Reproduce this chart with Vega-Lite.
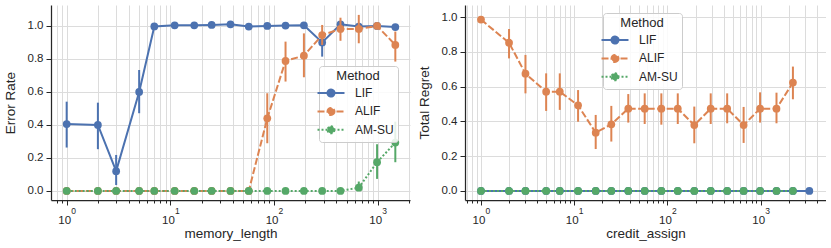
{
  "$schema": "https://vega.github.io/schema/vega-lite/v6.json",
  "padding": {"left": 3, "top": 5, "right": 0, "bottom": 10},
  "spacing": 7,
  "data": {"values": [
    {"p":"m","m":"LIF","x":1,"y":0.405,"lo":0.263,"hi":0.541},
    {"p":"m","m":"LIF","x":2,"y":0.40,"lo":0.253,"hi":0.535},
    {"p":"m","m":"LIF","x":3,"y":0.12,"lo":0.036,"hi":0.218},
    {"p":"m","m":"LIF","x":5,"y":0.60,"lo":0.471,"hi":0.733},
    {"p":"m","m":"LIF","x":7,"y":0.997},
    {"p":"m","m":"LIF","x":11,"y":1.004},
    {"p":"m","m":"LIF","x":17,"y":1.004},
    {"p":"m","m":"LIF","x":25,"y":1.006},
    {"p":"m","m":"LIF","x":38,"y":1.01},
    {"p":"m","m":"LIF","x":57,"y":0.996},
    {"p":"m","m":"LIF","x":86,"y":1.0},
    {"p":"m","m":"LIF","x":129,"y":1.002},
    {"p":"m","m":"LIF","x":194,"y":1.004},
    {"p":"m","m":"LIF","x":291,"y":0.90,"lo":0.814,"hi":0.955},
    {"p":"m","m":"LIF","x":437,"y":1.01},
    {"p":"m","m":"LIF","x":656,"y":0.996},
    {"p":"m","m":"LIF","x":985,"y":1.0},
    {"p":"m","m":"LIF","x":1477,"y":0.993},
    {"p":"m","m":"ALIF","x":1,"y":0},
    {"p":"m","m":"ALIF","x":2,"y":0},
    {"p":"m","m":"ALIF","x":3,"y":0},
    {"p":"m","m":"ALIF","x":5,"y":0},
    {"p":"m","m":"ALIF","x":7,"y":0},
    {"p":"m","m":"ALIF","x":11,"y":0},
    {"p":"m","m":"ALIF","x":17,"y":0},
    {"p":"m","m":"ALIF","x":25,"y":0},
    {"p":"m","m":"ALIF","x":38,"y":0},
    {"p":"m","m":"ALIF","x":57,"y":0},
    {"p":"m","m":"ALIF","x":86,"y":0.44,"lo":0.289,"hi":0.592},
    {"p":"m","m":"ALIF","x":129,"y":0.788,"lo":0.663,"hi":0.905},
    {"p":"m","m":"ALIF","x":194,"y":0.82,"lo":0.689,"hi":0.955},
    {"p":"m","m":"ALIF","x":291,"y":0.945,"lo":0.885,"hi":1.006},
    {"p":"m","m":"ALIF","x":437,"y":0.982,"lo":0.91,"hi":1.05},
    {"p":"m","m":"ALIF","x":656,"y":0.982,"lo":0.895,"hi":1.067},
    {"p":"m","m":"ALIF","x":985,"y":1.0},
    {"p":"m","m":"ALIF","x":1477,"y":0.885,"lo":0.784,"hi":0.966},
    {"p":"m","m":"AM-SU","x":1,"y":0},
    {"p":"m","m":"AM-SU","x":2,"y":0},
    {"p":"m","m":"AM-SU","x":3,"y":0},
    {"p":"m","m":"AM-SU","x":5,"y":0},
    {"p":"m","m":"AM-SU","x":7,"y":0},
    {"p":"m","m":"AM-SU","x":11,"y":0},
    {"p":"m","m":"AM-SU","x":17,"y":0},
    {"p":"m","m":"AM-SU","x":25,"y":0},
    {"p":"m","m":"AM-SU","x":38,"y":0},
    {"p":"m","m":"AM-SU","x":57,"y":0},
    {"p":"m","m":"AM-SU","x":86,"y":0},
    {"p":"m","m":"AM-SU","x":129,"y":0},
    {"p":"m","m":"AM-SU","x":194,"y":0},
    {"p":"m","m":"AM-SU","x":291,"y":0},
    {"p":"m","m":"AM-SU","x":437,"y":0},
    {"p":"m","m":"AM-SU","x":656,"y":0.02,"lo":0.0,"hi":0.057},
    {"p":"m","m":"AM-SU","x":985,"y":0.174,"lo":0.073,"hi":0.283},
    {"p":"m","m":"AM-SU","x":1477,"y":0.293,"lo":0.174,"hi":0.42},
    {"p":"c","m":"LIF","x":1,"y":0},
    {"p":"c","m":"LIF","x":2,"y":0},
    {"p":"c","m":"LIF","x":3,"y":0},
    {"p":"c","m":"LIF","x":5,"y":0},
    {"p":"c","m":"LIF","x":7,"y":0},
    {"p":"c","m":"LIF","x":11,"y":0},
    {"p":"c","m":"LIF","x":17,"y":0},
    {"p":"c","m":"LIF","x":25,"y":0},
    {"p":"c","m":"LIF","x":38,"y":0},
    {"p":"c","m":"LIF","x":57,"y":0},
    {"p":"c","m":"LIF","x":86,"y":0},
    {"p":"c","m":"LIF","x":129,"y":0},
    {"p":"c","m":"LIF","x":194,"y":0},
    {"p":"c","m":"LIF","x":291,"y":0},
    {"p":"c","m":"LIF","x":437,"y":0},
    {"p":"c","m":"LIF","x":656,"y":0},
    {"p":"c","m":"LIF","x":985,"y":0},
    {"p":"c","m":"LIF","x":1477,"y":0},
    {"p":"c","m":"LIF","x":2216,"y":0},
    {"p":"c","m":"LIF","x":3325,"y":0},
    {"p":"c","m":"ALIF","x":1,"y":0.985},
    {"p":"c","m":"ALIF","x":2,"y":0.852,"lo":0.762,"hi":0.931},
    {"p":"c","m":"ALIF","x":3,"y":0.674,"lo":0.561,"hi":0.782},
    {"p":"c","m":"ALIF","x":5,"y":0.571,"lo":0.46,"hi":0.676},
    {"p":"c","m":"ALIF","x":7,"y":0.571,"lo":0.466,"hi":0.676},
    {"p":"c","m":"ALIF","x":11,"y":0.492,"lo":0.398,"hi":0.58},
    {"p":"c","m":"ALIF","x":17,"y":0.335,"lo":0.241,"hi":0.437},
    {"p":"c","m":"ALIF","x":25,"y":0.383,"lo":0.284,"hi":0.489},
    {"p":"c","m":"ALIF","x":38,"y":0.473,"lo":0.393,"hi":0.557},
    {"p":"c","m":"ALIF","x":57,"y":0.473,"lo":0.385,"hi":0.561},
    {"p":"c","m":"ALIF","x":86,"y":0.473,"lo":0.381,"hi":0.561},
    {"p":"c","m":"ALIF","x":129,"y":0.473,"lo":0.385,"hi":0.561},
    {"p":"c","m":"ALIF","x":194,"y":0.379,"lo":0.274,"hi":0.485},
    {"p":"c","m":"ALIF","x":291,"y":0.473,"lo":0.385,"hi":0.561},
    {"p":"c","m":"ALIF","x":437,"y":0.473,"lo":0.389,"hi":0.561},
    {"p":"c","m":"ALIF","x":656,"y":0.379,"lo":0.276,"hi":0.483},
    {"p":"c","m":"ALIF","x":985,"y":0.473,"lo":0.393,"hi":0.567},
    {"p":"c","m":"ALIF","x":1477,"y":0.473,"lo":0.389,"hi":0.565},
    {"p":"c","m":"ALIF","x":2216,"y":0.623,"lo":0.527,"hi":0.715},
    {"p":"c","m":"AM-SU","x":1,"y":0},
    {"p":"c","m":"AM-SU","x":2,"y":0},
    {"p":"c","m":"AM-SU","x":3,"y":0},
    {"p":"c","m":"AM-SU","x":5,"y":0},
    {"p":"c","m":"AM-SU","x":7,"y":0},
    {"p":"c","m":"AM-SU","x":11,"y":0},
    {"p":"c","m":"AM-SU","x":17,"y":0},
    {"p":"c","m":"AM-SU","x":25,"y":0},
    {"p":"c","m":"AM-SU","x":38,"y":0},
    {"p":"c","m":"AM-SU","x":57,"y":0},
    {"p":"c","m":"AM-SU","x":86,"y":0},
    {"p":"c","m":"AM-SU","x":129,"y":0},
    {"p":"c","m":"AM-SU","x":194,"y":0},
    {"p":"c","m":"AM-SU","x":291,"y":0},
    {"p":"c","m":"AM-SU","x":437,"y":0},
    {"p":"c","m":"AM-SU","x":656,"y":0},
    {"p":"c","m":"AM-SU","x":985,"y":0},
    {"p":"c","m":"AM-SU","x":1477,"y":0},
    {"p":"c","m":"AM-SU","x":2216,"y":0}
  ]},
  "resolve": {"scale": {"color": "independent"}, "legend": {"color": "independent"}},
  "hconcat": [
    {
      "width": 359, "height": 195,
      "transform": [{"filter": "datum.p === 'm'"}],
      "resolve": {"axis": {"x": "independent"}},
      "layer": [
        {
          "encoding": {
            "x": {"field": "x", "type": "quantitative", "title": "memory_length",
              "scale": {"type": "log", "domain": [0.706, 2046], "nice": false},
              "axis": {"values": [0.8,0.9,1,2,3,4,5,6,7,8,9,10,20,30,40,50,60,70,80,90,100,200,300,400,500,600,700,800,900,1000,2000],
                "labelExpr": "datum.value == 1 || datum.value == 10 || datum.value == 100 || datum.value == 1000 ? '10' : ''",
                "labelOffset": -2.5,
                "tickSize": {"condition": {"test": "datum.value == 1 || datum.value == 10 || datum.value == 100 || datum.value == 1000", "value": 5}, "value": 3},
                "labelOverlap": false, "labelFlush": false, "labelBound": false, "labelPadding": 9, "titlePadding": 1}},
            "y": {"field": "y", "type": "quantitative", "title": "Error Rate",
              "scale": {"domain": [-0.055, 1.127], "nice": false, "zero": false},
              "axis": {"values": [0,0.2,0.4,0.6,0.8,1], "format": ".1f", "tickSize": 5, "labelPadding": 3, "labelOverlap": false, "labelBound": false, "minExtent": 27, "maxExtent": 27, "titlePadding": 7}},
            "color": {"field": "m", "type": "nominal", "title": "Method",
              "scale": {"domain": ["LIF", "ALIF", "AM-SU"], "range": ["#4c72b0", "#dd8452", "#55a868"]},
              "legend": {"orient": "none", "legendX": 268, "legendY": 61,
                "encode": {"symbols": {"update": {
                  "fill": [{"test": "datum.value === 'LIF'", "value": "#4c72b0"}, {"test": "datum.value === 'ALIF'", "value": "#dd8452"}, {"value": "#55a868"}],
                  "stroke": [{"test": "datum.value === 'LIF'", "value": "#4c72b0"}, {"test": "datum.value === 'ALIF'", "value": "#dd8452"}, {"value": "#55a868"}],
                  "strokeDash": [{"test": "datum.value === 'ALIF'", "value": [7, 2.5]}, {"test": "datum.value === 'AM-SU'", "value": [2, 2]}, {"value": [1, 0]}],
                  "strokeWidth": {"value": 2},
                  "opacity": {"value": 1},
                  "shape": {"value": "M-2,0L2,0M0.52,0A0.52,0.52,0,1,1,-0.52,0A0.52,0.52,0,1,1,0.52,0Z"},
                  "size": {"value": 182}
                }}}}
            }
          },
          "layer": [
            {"transform": [{"filter": "datum.m === 'LIF'"}], "mark": {"type": "line", "strokeWidth": 2}},
            {"transform": [{"filter": "datum.m === 'LIF' && isValid(datum.lo)"}], "mark": {"type": "rule", "strokeWidth": 2},
             "encoding": {"y": {"field": "lo", "type": "quantitative", "title": "Error Rate",
               "scale": {"domain": [-0.055, 1.127], "nice": false, "zero": false},
               "axis": {"values": [0,0.2,0.4,0.6,0.8,1], "format": ".1f", "tickSize": 5, "labelPadding": 3, "labelOverlap": false, "labelBound": false, "minExtent": 27, "maxExtent": 27, "titlePadding": 7}}, "y2": {"field": "hi"}}},
            {"transform": [{"filter": "datum.m === 'LIF'"}], "mark": {"type": "circle", "size": 60, "opacity": 1}},
            {"transform": [{"filter": "datum.m === 'ALIF'"}], "mark": {"type": "line", "strokeWidth": 2, "strokeDash": [7, 2.5]}},
            {"transform": [{"filter": "datum.m === 'ALIF' && isValid(datum.lo)"}], "mark": {"type": "rule", "strokeWidth": 2},
             "encoding": {"y": {"field": "lo", "type": "quantitative", "title": "Error Rate",
               "scale": {"domain": [-0.055, 1.127], "nice": false, "zero": false},
               "axis": {"values": [0,0.2,0.4,0.6,0.8,1], "format": ".1f", "tickSize": 5, "labelPadding": 3, "labelOverlap": false, "labelBound": false, "minExtent": 27, "maxExtent": 27, "titlePadding": 7}}, "y2": {"field": "hi"}}},
            {"transform": [{"filter": "datum.m === 'ALIF'"}], "mark": {"type": "circle", "size": 60, "opacity": 1}},
            {"transform": [{"filter": "datum.m === 'AM-SU'"}], "mark": {"type": "line", "strokeWidth": 2, "strokeDash": [2, 2]}},
            {"transform": [{"filter": "datum.m === 'AM-SU' && isValid(datum.lo)"}], "mark": {"type": "rule", "strokeWidth": 2},
             "encoding": {"y": {"field": "lo", "type": "quantitative", "title": "Error Rate",
               "scale": {"domain": [-0.055, 1.127], "nice": false, "zero": false},
               "axis": {"values": [0,0.2,0.4,0.6,0.8,1], "format": ".1f", "tickSize": 5, "labelPadding": 3, "labelOverlap": false, "labelBound": false, "minExtent": 27, "maxExtent": 27, "titlePadding": 7}}, "y2": {"field": "hi"}}},
            {"transform": [{"filter": "datum.m === 'AM-SU'"}], "mark": {"type": "circle", "size": 60, "opacity": 1}}
          ]
        },
        {
          "mark": {"type": "point", "opacity": 0},
          "encoding": {
            "x": {"field": "x", "type": "quantitative",
              "scale": {"type": "log", "domain": [0.706, 2046], "nice": false},
              "axis": {"orient": "top", "offset": -210, "values": [1, 10, 100, 1000],
                "labelExpr": "datum.value == 1 ? '0' : datum.value == 10 ? '1' : datum.value == 100 ? '2' : '3'",
                "labelFontSize": 8.5, "labelOffset": 6.4, "labelPadding": 0, "tickSize": 0, "ticks": false,
                "domain": false, "grid": false, "title": null, "labelOverlap": false, "labelBound": false, "labelFlush": false}}
          }
        }
      ]
    },
    {
      "width": 361, "height": 195,
      "transform": [{"filter": "datum.p === 'c'"}],
      "resolve": {"axis": {"x": "independent"}},
      "layer": [
        {
          "encoding": {
            "x": {"field": "x", "type": "quantitative", "title": "credit_assign",
              "scale": {"type": "log", "domain": [0.674, 5016], "nice": false},
              "axis": {"values": [0.7,0.8,0.9,1,2,3,4,5,6,7,8,9,10,20,30,40,50,60,70,80,90,100,200,300,400,500,600,700,800,900,1000,2000,3000,4000],
                "labelExpr": "datum.value == 1 || datum.value == 10 || datum.value == 100 || datum.value == 1000 ? '10' : ''",
                "labelOffset": -2.5,
                "tickSize": {"condition": {"test": "datum.value == 1 || datum.value == 10 || datum.value == 100 || datum.value == 1000", "value": 5}, "value": 3},
                "labelOverlap": false, "labelFlush": false, "labelBound": false, "labelPadding": 9, "titlePadding": 1}},
            "y": {"field": "y", "type": "quantitative", "title": "Total Regret",
              "scale": {"domain": [-0.052, 1.069], "nice": false, "zero": false},
              "axis": {"values": [0,0.2,0.4,0.6,0.8,1], "format": ".1f", "tickSize": 5, "labelPadding": 3, "labelOverlap": false, "labelBound": false, "minExtent": 27, "maxExtent": 27, "titlePadding": 7}},
            "color": {"field": "m", "type": "nominal", "title": "Method",
              "scale": {"domain": ["LIF", "ALIF", "AM-SU"], "range": ["#4c72b0", "#dd8452", "#55a868"]},
              "legend": {"orient": "none", "legendX": 138, "legendY": 8,
                "encode": {"symbols": {"update": {
                  "fill": [{"test": "datum.value === 'LIF'", "value": "#4c72b0"}, {"test": "datum.value === 'ALIF'", "value": "#dd8452"}, {"value": "#55a868"}],
                  "stroke": [{"test": "datum.value === 'LIF'", "value": "#4c72b0"}, {"test": "datum.value === 'ALIF'", "value": "#dd8452"}, {"value": "#55a868"}],
                  "strokeDash": [{"test": "datum.value === 'ALIF'", "value": [7, 2.5]}, {"test": "datum.value === 'AM-SU'", "value": [2, 2]}, {"value": [1, 0]}],
                  "strokeWidth": {"value": 2},
                  "opacity": {"value": 1},
                  "shape": {"value": "M-2,0L2,0M0.52,0A0.52,0.52,0,1,1,-0.52,0A0.52,0.52,0,1,1,0.52,0Z"},
                  "size": {"value": 182}
                }}}}
            }
          },
          "layer": [
            {"transform": [{"filter": "datum.m === 'LIF'"}], "mark": {"type": "line", "strokeWidth": 2}},
            {"transform": [{"filter": "datum.m === 'LIF'"}], "mark": {"type": "circle", "size": 60, "opacity": 1}},
            {"transform": [{"filter": "datum.m === 'ALIF'"}], "mark": {"type": "line", "strokeWidth": 2, "strokeDash": [7, 2.5]}},
            {"transform": [{"filter": "datum.m === 'ALIF' && isValid(datum.lo)"}], "mark": {"type": "rule", "strokeWidth": 2},
             "encoding": {"y": {"field": "lo", "type": "quantitative", "title": "Total Regret",
               "scale": {"domain": [-0.052, 1.069], "nice": false, "zero": false},
               "axis": {"values": [0,0.2,0.4,0.6,0.8,1], "format": ".1f", "tickSize": 5, "labelPadding": 3, "labelOverlap": false, "labelBound": false, "minExtent": 27, "maxExtent": 27, "titlePadding": 7}}, "y2": {"field": "hi"}}},
            {"transform": [{"filter": "datum.m === 'ALIF'"}], "mark": {"type": "circle", "size": 60, "opacity": 1}},
            {"transform": [{"filter": "datum.m === 'AM-SU'"}], "mark": {"type": "line", "strokeWidth": 2, "strokeDash": [2, 2]}},
            {"transform": [{"filter": "datum.m === 'AM-SU'"}], "mark": {"type": "circle", "size": 60, "opacity": 1}}
          ]
        },
        {
          "mark": {"type": "point", "opacity": 0},
          "encoding": {
            "x": {"field": "x", "type": "quantitative",
              "scale": {"type": "log", "domain": [0.674, 5016], "nice": false},
              "axis": {"orient": "top", "offset": -210, "values": [1, 10, 100, 1000],
                "labelExpr": "datum.value == 1 ? '0' : datum.value == 10 ? '1' : datum.value == 100 ? '2' : '3'",
                "labelFontSize": 8.5, "labelOffset": 6.4, "labelPadding": 0, "tickSize": 0, "ticks": false,
                "domain": false, "grid": false, "title": null, "labelOverlap": false, "labelBound": false, "labelFlush": false}}
          }
        }
      ]
    }
  ],
  "config": {
    "font": "Liberation Sans",
    "view": {"stroke": null},
    "axis": {"domainColor": "#262626", "domainWidth": 1.25, "tickColor": "#262626", "tickWidth": 1,
      "labelColor": "#262626", "labelFontSize": 11.5, "titleColor": "#262626", "titleFontSize": 13.5,
      "titleFontWeight": "normal", "gridColor": "#dcdcdc", "gridWidth": 1, "grid": true},
    "legend": {"titleFontSize": 13, "titleFontWeight": "normal", "titleColor": "#262626",
      "labelFontSize": 12, "labelColor": "#262626", "padding": 4, "fillColor": "rgba(255,255,255,0.85)",
      "strokeColor": "#cccccc", "cornerRadius": 3, "rowPadding": 2.4, "titleAnchor": "middle",
      "titlePadding": 2, "labelOffset": 16}
  }
}
